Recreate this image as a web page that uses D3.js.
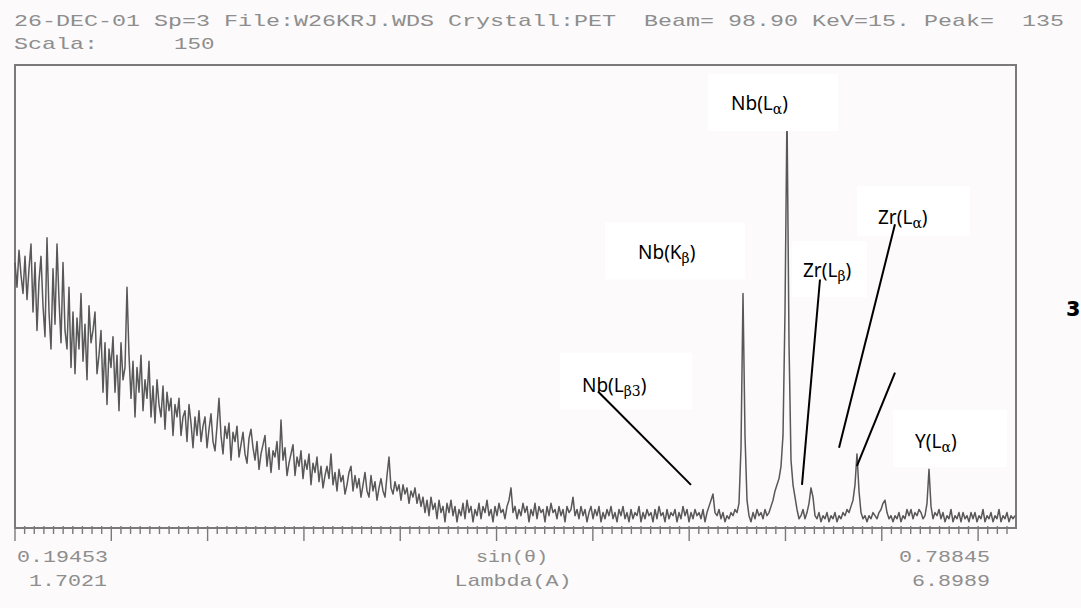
<!DOCTYPE html>
<html><head><meta charset="utf-8">
<script src="https://cdn.jsdelivr.net/npm/d3@7"></script>
<style>body{margin:0;background:#fcfafa;} svg{display:block}</style>
</head><body><svg id="c" width="1081" height="608"></svg>
<script>
// ---------- data ----------
const headerLine1 = "26-DEC-01 Sp=3 File:W26KRJ.WDS Crystall:PET  Beam= 98.90 KeV=15. Peak=  135";
const headerScaleLabel = "Scala:";
const headerScaleValue = "150";
const fullScale = 150;                      // counts at top of frame
const lambdaDomain = [1.7021, 6.8989];      // Lambda(A) range of the scan
const sinLabels = ["0.19453", "0.78845"];
const lambdaLabels = ["1.7021", "6.8989"];
const axisTitles = ["sin(θ)", "Lambda(A)"];
const minorTickStep = 0.05;                 // Å
const majorTickEvery = 10;                  // every 0.5 Å
const lambdaStart = 1.7021;
const lambdaStep = 0.0103832;               // Å per sample
const counts = [
 86,78,90,82,76,88,74,84,92,70,
 86,64,80,88,72,62,94,70,58,84,
 66,92,74,60,86,64,58,78,52,70,
 50,68,58,76,54,66,48,72,60,64,
 70,50,56,64,44,60,40,58,52,62,
 44,56,38,60,48,52,78,56,42,54,
 36,52,44,56,38,48,42,54,36,46,
 34,48,40,36,46,32,44,38,42,30,
 40,36,42,30,36,38,28,40,34,26,
 36,30,38,28,33,36,26,32,37,28,
 25,33,42,30,24,33,29,34,22,31,
 28,33,23,27,31,24,21,29,32,26,
 22,28,19,24,27,30,20,26,18,25,
 23,28,19,35,22,26,17,21,24,27,
 17,23,20,25,16,22,19,24,14,21,
 18,23,15,20,13,17,20,16,24,14,
 18,12,19,15,17,11,14,18,20,12,
 17,13,16,10,14,18,12,10,17,12,
 15,9,13,16,12,10,17,23,13,11,
 15,12,14,9,14,11,13,8,12,10,
 13,8,11,7,10,5,9,4,10,6,
 8,3,9,5,7,2,8,5,9,4,
 7,2,6,4,8,3,9,5,7,2,
 6,4,8,3,7,5,9,4,6,2,
 7,4,8,5,6,3,7,9,13,5,
 7,3,6,4,8,5,7,2,6,4,
 8,3,7,5,6,2,7,4,8,5,
 6,3,7,4,6,2,7,5,6,10,
 4,6,3,7,4,6,2,5,7,3,
 6,4,7,2,5,3,6,4,7,3,
 5,2,6,4,7,3,5,2,6,3,
 5,4,7,2,5,3,6,4,5,2,
 6,3,7,4,5,2,6,3,5,4,
 6,2,5,3,7,4,6,2,5,3,
 6,4,5,3,6,2,5,7,9,11,
 5,4,6,3,5,2,4,3,5,4,
 6,5,8,26,76,30,9,4,2,5,
 3,6,4,5,3,6,4,5,7,9,
 12,14,16,20,30,70,135,60,22,14,
 10,6,3,4,6,3,5,8,13,10,
 4,3,5,2,4,3,5,2,4,3,
 5,2,4,3,5,4,6,5,7,9,
 14,24,12,5,3,4,2,4,3,5,
 4,3,5,6,8,9,5,3,4,2,
 4,3,5,2,4,3,6,4,6,3,
 5,4,6,5,3,4,8,19,7,3,
 5,4,6,3,5,2,4,3,6,2,
 4,3,5,2,5,3,4,2,5,3,
 5,2,4,3,6,2,4,3,5,2,
 4,3,6,2,4,3,5,2,4,3,
 4
];
// peak annotations: [label base, subscript, closing, lambda, counts] (text anchor)
const peakLabels = [
  ["Nb(L", "α", ")", 5.4193, 135.4],
  ["Nb(K", "β", ")", 4.9365, 87.0],
  ["Zr(L", "β", ")", 5.7931, 81.2],
  ["Zr(L", "α", ")", 6.1825, 98.4],
  ["Y(L",  "α", ")", 6.3745, 26.0],
  ["Nb(L", "β3", ")", 4.6457, 44.2]
];
// white label boxes: [lambda0, lambda1, countsTop, countsBottom]
const labelBoxes = [
  [5.2999, 5.9748, 147.1, 128.6],
  [4.7651, 5.4920, 99.0, 80.5],
  [5.7360, 6.1253, 92.9, 74.7],
  [6.0734, 6.6601, 110.7, 94.5],
  [6.2603, 6.8522, 38.3, 19.8],
  [4.5315, 5.2168, 56.8, 38.3]
];
// leader lines: [lambda0, counts0, lambda1, counts1]
const leaderLines = [
  [4.7288, 44.2, 5.2116, 13.96],
  [5.8813, 80.5, 5.7879, 13.96],
  [6.2707, 98.4, 5.9800, 26.0],
  [6.2707, 50.3, 6.0734, 20.1]
];

// ---------- drawing ----------
const svg = d3.select("#c");
const W = 1081, H = 608;
const frame = {left: 15, right: 1016, top: 65, bottom: 528};
const x = d3.scaleLinear().domain(lambdaDomain).range([frame.left, frame.right]);
const y = d3.scaleLinear().domain([0, fullScale]).range([frame.bottom, frame.top]);

svg.append("rect").attr("width", W).attr("height", H).attr("fill", "#fcfafa");

const mono = "'Liberation Mono', 'DejaVu Sans Mono', monospace";
const grey = "#8e8e8e";

function monoText(str, xPos, yPos, charW, anchorEnd) {
  const len = str.length * charW;
  const x0 = anchorEnd ? xPos - len : xPos;
  svg.append("text").attr("x", x0).attr("y", yPos)
    .attr("font-family", mono).attr("font-size", 17).attr("fill", grey)
    .attr("textLength", len).attr("lengthAdjust", "spacingAndGlyphs")
    .style("white-space", "pre").text(str);
}
monoText(headerLine1, 14, 26, 14);
monoText(headerScaleLabel, 14, 49, 14);
monoText(headerScaleValue, 174, 49, 13.5);

// frame
svg.append("rect").attr("x", frame.left).attr("y", frame.top)
  .attr("width", frame.right - frame.left).attr("height", frame.bottom - frame.top)
  .attr("fill", "none").attr("stroke", "#7a7a7a").attr("stroke-width", 2);

// ticks
const nTicks = Math.floor((lambdaDomain[1] - lambdaDomain[0]) / minorTickStep + 1e-9);
const tickVals = d3.range(0, nTicks + 1).map(k => ({v: lambdaDomain[0] + k * minorTickStep, major: k % majorTickEvery === 0}));
svg.append("g").selectAll("line").data(tickVals).join("line")
  .attr("x1", d => x(d.v)).attr("x2", d => x(d.v))
  .attr("y1", frame.bottom - 2).attr("y2", d => frame.bottom + (d.major ? 13 : 6))
  .attr("stroke", "#7a7a7a").attr("stroke-width", 1.4);

// spectrum
const pts = counts.map((c, i) => [lambdaStart + i * lambdaStep, c]);
const line = d3.line().x(d => x(d[0])).y(d => y(d[1]));
svg.append("path").datum(pts).attr("d", line)
  .attr("fill", "none").attr("stroke", "#585858").attr("stroke-width", 1.5)
  .attr("stroke-linejoin", "round");

// label boxes
svg.append("g").selectAll("rect").data(labelBoxes).join("rect")
  .attr("x", d => x(d[0])).attr("y", d => y(d[2]))
  .attr("width", d => x(d[1]) - x(d[0])).attr("height", d => y(d[3]) - y(d[2]))
  .attr("fill", "#ffffff");

// leader lines
svg.append("g").selectAll("line").data(leaderLines).join("line")
  .attr("x1", d => x(d[0])).attr("y1", d => y(d[1]))
  .attr("x2", d => x(d[2])).attr("y2", d => y(d[3]))
  .attr("stroke", "#000").attr("stroke-width", 2);

// peak labels
const lbl = svg.append("g").attr("font-family", "'Noto Sans', 'Open Sans', sans-serif")
  .attr("font-size", 19).attr("fill", "#000");
peakLabels.forEach(d => {
  const t = lbl.append("text").attr("x", x(d[3])).attr("y", y(d[4]));
  t.append("tspan").text(d[0]);
  t.append("tspan").attr("font-size", 14).attr("font-family", "'DejaVu Serif', serif").attr("dy", 4).text(d[1]);
  t.append("tspan").attr("dy", -4).text(d[2]);
});

// cut-off glyph at right edge
svg.append("text").attr("x", 1066).attr("y", 316).attr("font-family", "'DejaVu Sans', sans-serif")
  .attr("font-weight", "bold").attr("font-size", 26).attr("fill", "#000").text("ɜ");

// bottom labels
monoText(sinLabels[0], 108, 562, 13, true);
monoText(lambdaLabels[0], 107, 586, 13, true);
monoText(sinLabels[1], 990, 562, 13, true);
monoText(lambdaLabels[1], 990, 586, 13, true);
monoText(axisTitles[0], 512 - 3 * 12, 562, 12);
monoText(axisTitles[1], 513 - 4.5 * 13, 586, 13);
</script></body></html>
